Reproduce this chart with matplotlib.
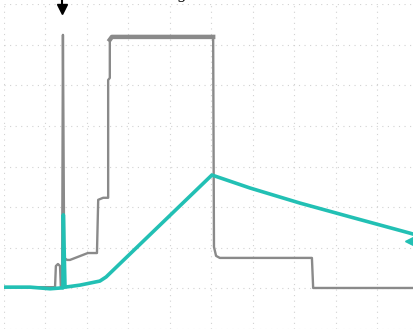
import numpy as np
import matplotlib
matplotlib.use('Agg')
import matplotlib.pyplot as plt

# scope traces, in screen divisions (x: time div, y: volt div)
gray_t = [0, 1.23, 1.25, 1.30, 1.35, 1.37, 1.40, 1.42, 1.45, 1.52, 1.59, 2.02,
          2.24, 2.27, 2.39, 2.46, 2.51, 2.51, 2.55, 2.55, 2.60, 5.01, 5.04,
          5.06, 5.11, 5.20, 7.42, 7.45, 9.88]
gray_v = [1.03, 1.03, 1.55, 1.60, 1.55, 1.03, 1.03, 7.24, 1.75, 1.70, 1.70, 1.87,
          1.87, 3.18, 3.23, 3.23, 3.23, 6.13, 6.18, 7.12, 7.19, 7.19, 7.19,
          2.02, 1.80, 1.75, 1.75, 1.01, 1.01]

teal_t = [0, 0.63, 1.11, 1.37, 1.42, 1.43, 1.47, 1.83, 2.31, 2.46, 5.01,
          5.93, 7.13, 8.34, 9.78, 9.88]
teal_v = [1.03, 1.03, 0.99, 1.01, 1.01, 2.81, 1.03, 1.08, 1.18, 1.28, 3.79,
          3.47, 3.10, 2.76, 2.36, 2.33]

trig_t, trig_v = 1.40, 7.88
lvl_t, lvl_v = 9.76, 2.17

n_xdiv = 9.88
n_ydiv = 8

fig = plt.figure(figsize=(4.14, 3.29), dpi=100)
ax = fig.add_axes([4 / 414, 0, 1 - 4 / 414, 325 / 329])
ax.set_xlim(0, n_xdiv)
ax.set_ylim(0, n_ydiv)
ax.axis('off')

for k in range(0, 10):
    ax.axvline(k, color='#d2d2d2', lw=0.8, ls=(0, (1, 4)), zorder=0)
for k in range(0, 9):
    ax.axhline(k, color='#d2d2d2', lw=0.8, ls=(0, (1, 4)), zorder=0)

ax.plot(gray_t, gray_v, color='#8a8a8a', lw=1.7, zorder=2)
# flat top is noisy on the scope, looks thicker
ax.plot(gray_t[19:23], gray_v[19:23], color='#8a8a8a', lw=3.2, zorder=2)
ax.plot(teal_t, teal_v, color='#22c0b4', lw=2.6, zorder=3)

ax.plot([trig_t], [trig_v], marker='v', color='black', ms=7, clip_on=False, zorder=4)
ax.plot([trig_t, trig_t], [trig_v, 8.1], color='black', lw=1.5, clip_on=False, zorder=4)
ax.plot([lvl_t], [lvl_v], marker='<', color='#22c0b4', ms=6, clip_on=False, zorder=4)

fig.text(0.425, 1.002, 'g', fontsize=11, family='DejaVu Serif', va='baseline')

fig.savefig('out.png', dpi=100)
